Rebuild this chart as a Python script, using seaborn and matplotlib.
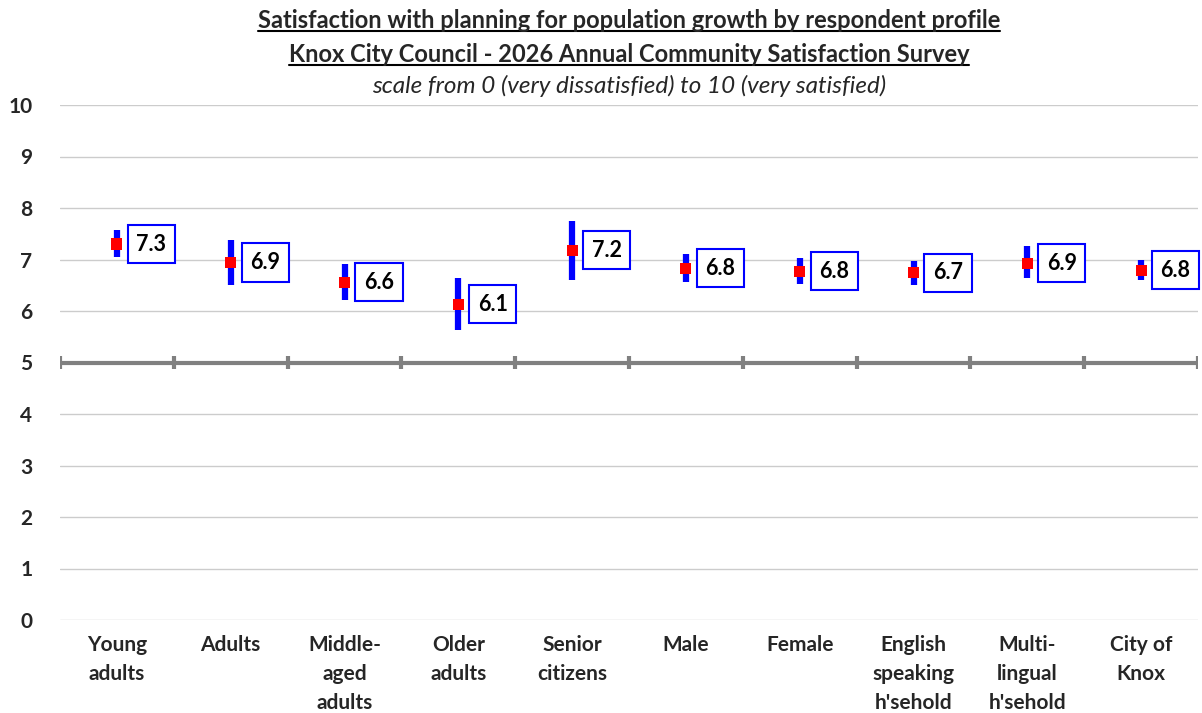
import pandas as pd
import matplotlib
matplotlib.use("Agg")
import matplotlib.pyplot as plt
from matplotlib.lines import Line2D
import seaborn as sns

# Données
categories = ["Young\nadults", "Adults", "Middle-\naged\nadults", "Older\nadults",
              "Senior\ncitizens", "Male", "Female", "English\nspeaking\nh'sehold",
              "Multi-\nlingual\nh'sehold", "City of\nKnox"]
means = [7.30, 6.94, 6.56, 6.13, 7.18, 6.83, 6.77, 6.74, 6.93, 6.79]
lower = [7.05, 6.50, 6.21, 5.63, 6.60, 6.57, 6.52, 6.50, 6.64, 6.60]
upper = [7.57, 7.38, 6.91, 6.64, 7.75, 7.11, 7.03, 6.97, 7.26, 6.99]
labels = ["7.3", "6.9", "6.6", "6.1", "7.2", "6.8", "6.8", "6.7", "6.9", "6.8"]
y_ticks = list(range(0, 11))

df = pd.DataFrame({"profil": categories, "moyenne": means, "bas": lower, "haut": upper, "label": labels})
df["pos"] = range(len(df))

sns.set_style("white")
plt.rcParams["font.family"] = ["Lato", "DejaVu Sans"]

fig = plt.figure(figsize=(12.02, 7.13), dpi=100)
ax = fig.add_axes([60 / 1202, 1 - 620 / 713, 1138 / 1202, 515 / 713])

# Grille horizontale
for y in y_ticks:
    if y != 5:
        ax.axhline(y, color="#cccccc", lw=1, zorder=0)

# Ligne de référence à 5 avec graduations
ax.axhline(5, color="#808080", lw=3, zorder=1)
bounds = [i - 0.5 for i in range(len(df) + 1)]
ax.vlines(bounds, 4.88, 5.12, color="#808080", lw=3, zorder=1)

# Intervalles de confiance
ax.vlines(df["pos"], df["bas"], df["haut"], color="#0000ff", lw=4.5, zorder=2)

# Moyennes
sns.scatterplot(data=df, x="pos", y="moyenne", marker="s", color="#ff0000", s=65,
                edgecolor="none", zorder=3, ax=ax)

# Étiquettes
for _, r in df.iterrows():
    ax.annotate(r["label"], (r["pos"], r["moyenne"]), xytext=(14, 0), textcoords="offset points",
                ha="left", va="center", fontsize=15.5, fontweight="bold", color="black",
                bbox=dict(boxstyle="square,pad=0.4", fc="white", ec="#0000ff", lw=1.5), zorder=4)

ax.set_xlim(-0.5, len(df) - 0.5)
ax.set_ylim(0, 10)
ax.set_yticks(y_ticks)
ax.set_yticklabels([str(v) for v in y_ticks], fontsize=15, fontweight="bold")
ax.set_xticks(df["pos"])
ax.set_xticklabels(df["profil"], fontsize=15, fontweight="bold", linespacing=1.55)
ax.tick_params(axis="x", length=0, pad=11)
ax.tick_params(axis="y", length=0, pad=20)
ax.set_xlabel("")
ax.set_ylabel("")
for s in ax.spines.values():
    s.set_visible(False)

# Titres
cx = (60 + 1198) / 2 / 1202
t1 = fig.text(cx, 1 - 21 / 713, "Satisfaction with planning for population growth by respondent profile",
              ha="center", va="center", fontsize=17, fontweight="bold")
t2 = fig.text(cx, 1 - 55 / 713, "Knox City Council - 2026 Annual Community Satisfaction Survey",
              ha="center", va="center", fontsize=17, fontweight="bold")
fig.text(cx, 1 - 86 / 713, "scale from 0 (very dissatisfied) to 10 (very satisfied)",
         ha="center", va="center", fontsize=17.5, style="italic")

# Soulignement des titres
fig.canvas.draw()
r = fig.canvas.get_renderer()
for t in (t1, t2):
    bb = t.get_window_extent(renderer=r).transformed(fig.transFigure.inverted())
    yl = bb.y0 + 0.002
    fig.add_artist(Line2D([bb.x0, bb.x1], [yl, yl], color="black", lw=1.5, transform=fig.transFigure))

fig.savefig("out.png", dpi=100)
